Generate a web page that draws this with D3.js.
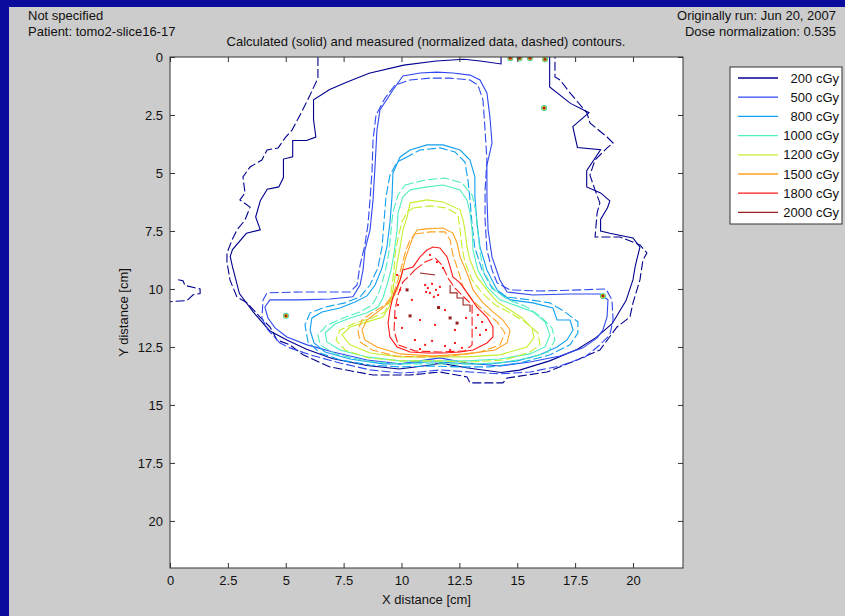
<!DOCTYPE html>
<html><head><meta charset="utf-8">
<script src="https://cdn.jsdelivr.net/npm/d3@7/dist/d3.min.js"></script>
<style>
body{margin:0;background:#0a0a9c;}
text{font-family:"Liberation Sans",Arial,sans-serif;font-size:13px;fill:#111;}
</style>
</head><body><svg id="chart"></svg>
<script>
// dose levels and colours
const levels = [200, 500, 800, 1000, 1200, 1500, 1800, 2000];
const levelColors = ['#00008f', '#2f48f0', '#10a0f0', '#50eec0', '#c4f030', '#ffa020', '#ff1a1a', '#9a2020'];
const levelLabels = ['200 cGy', '500 cGy', '800 cGy', '1000 cGy', '1200 cGy', '1500 cGy', '1800 cGy', '2000 cGy'];

const xTicks = [0, 2.5, 5, 7.5, 10, 12.5, 15, 17.5, 20];
const xTickLabels = ['0', '2.5', '5', '7.5', '10', '12.5', '15', '17.5', '20'];
const yTicks = [0, 2.5, 5, 7.5, 10, 12.5, 15, 17.5, 20];
const yTickLabels = ['0', '2.5', '5', '7.5', '10', '12.5', '15', '17.5', '20'];

// contours, [x cm, y cm]; solid = calculated, dashed = measured
const solid200 = [[16.4,0],[16.4,1.29],[17.3,2.0],[18.1,2.4],[17.4,3.0],[17.6,3.9],[18.6,4.0],[18.0,4.9],[18.0,5.6],[18.6,5.86],[19.0,6.2],[18.9,6.5],[18.6,7.0],[18.6,7.5],[19.0,7.6],[20.0,7.8],[20.3,8.2],[20.2,8.6],[20.1,9.0],[20.0,9.6],[19.7,10.5],[19.1,11.5],[18.4,12.1],[17.6,12.6],[16.4,13.1],[15.1,13.5],[14.3,13.6],[12.8,13.4],[11.7,13.2],[11.1,13.3],[9.9,13.45],[8.5,13.3],[7.0,13.0],[5.9,12.6],[5.05,12.2],[4.3,11.8],[3.6,11.0],[3.0,10.2],[2.7,9.05],[2.6,8.6],[2.7,8.3],[3.3,7.6],[3.9,7.45],[3.7,6.9],[3.9,6.2],[4.2,5.7],[4.7,5.6],[4.9,5.2],[4.9,4.4],[5.3,4.3],[5.3,3.6],[5.9,3.6],[6.3,3.45],[6.2,2.7],[6.2,1.85],[6.9,1.4],[7.6,1.1],[8.6,0.7],[10.1,0.35],[11.5,0.17],[12.7,0.1],[13.4,0.17],[14.3,0.3],[14.3,0]];
const dashed200 = [[6.39,0],[6.39,0.91],[6.05,1.64],[5.62,2.5],[5.27,3.15],[4.97,3.49],[4.67,3.92],[4.19,4.01],[3.97,4.44],[3.46,4.74],[3.15,5.17],[3.24,5.86],[3.02,6.16],[3.46,6.47],[3.24,7.03],[2.89,7.46],[2.68,7.89],[2.46,8.45],[2.46,8.84],[2.59,9.61],[2.89,10.34],[3.33,10.6],[3.89,11.21],[4.32,11.64],[4.62,12.2],[5.18,12.41],[5.75,12.84],[6.91,13.36],[8.77,13.71],[10.37,13.71],[11.66,13.58],[12.83,13.79],[12.96,14.05],[14.38,14.05],[14.56,13.84],[16.29,13.58],[17.58,13.06],[18.57,12.63],[19.31,11.64],[19.87,11.21],[20.0,10.6],[20.3,9.61],[20.43,8.75],[20.6,8.45],[20.3,8.1],[19.44,7.76],[18.36,7.76],[18.45,6.72],[18.57,6.29],[18.36,5.73],[18.14,5.09],[18.36,4.44],[18.88,3.92],[19.14,3.71],[18.88,3.45],[18.14,2.84],[18.01,2.41],[17.28,1.55],[16.85,0.99],[16.63,0.86],[16.63,0]];
const dashed200Edge = [[0.35,9.6],[0.56,9.65],[0.65,9.85],[1.3,10.0],[1.3,10.2],[1.0,10.25],[0.73,10.5],[0,10.55]];

const solid500 = [[5.05,12.07],[4.54,11.68],[4.23,11.25],[4.1,10.78],[4.32,10.47],[5.62,10.47],[6.91,10.43],[7.9,10.34],[8.21,9.83],[8.34,9.18],[8.42,8.32],[8.64,7.46],[8.77,6.16],[8.86,4.66],[8.94,3.15],[9.07,2.28],[9.63,1.42],[10.06,0.82],[10.8,0.69],[11.53,0.65],[12.22,0.69],[12.96,0.78],[13.39,0.99],[13.69,1.55],[13.82,2.59],[13.91,3.71],[13.69,4.66],[13.69,6.03],[13.74,7.46],[13.91,8.62],[14.25,9.61],[14.56,10.13],[15.68,10.26],[17.28,10.22],[18.57,10.22],[18.92,10.47],[18.88,11.21],[18.7,11.77],[18.45,12.11],[17.84,12.54],[16.85,12.89],[15.55,13.15],[14.25,13.32],[12.83,13.19],[11.66,12.97],[10.8,13.1],[9.94,13.23],[8.51,13.06],[7.04,12.72],[5.92,12.41],[5.05,12.07]];
const dashed500 = [[4.75,12.33],[4.23,11.77],[3.97,11.25],[4.02,10.47],[4.19,10.17],[5.62,10.13],[6.91,10.13],[7.78,10.13],[8.08,9.83],[8.21,8.97],[8.42,8.1],[8.55,7.24],[8.64,6.16],[8.73,4.87],[8.77,3.58],[8.9,2.5],[9.29,1.77],[9.72,1.21],[10.37,0.99],[11.23,0.91],[12.1,0.91],[12.96,0.99],[13.3,1.21],[13.52,1.85],[13.61,3.15],[13.69,4.44],[13.61,5.73],[13.61,7.03],[13.69,8.32],[13.91,9.18],[14.13,9.74],[14.69,10.04],[15.98,10.09],[17.71,10.04],[18.83,10.0],[19.09,10.47],[19.14,11.34],[19.0,11.98],[18.57,12.41],[17.93,12.93],[16.85,13.32],[15.55,13.58],[14.25,13.66],[12.96,13.58],[11.66,13.49],[10.8,13.58],[9.94,13.62],[8.64,13.49],[7.34,13.19],[6.05,12.84],[5.18,12.54],[4.75,12.33]];

const solid800 = [[10.37,4.01],[11.1,3.79],[11.79,3.79],[12.53,4.01],[12.96,4.44],[13.17,5.17],[13.17,6.03],[13.26,7.16],[13.39,8.19],[13.69,9.18],[14.13,10.04],[14.69,10.47],[15.68,10.6],[16.54,10.82],[16.72,11.34],[17.28,11.34],[17.41,11.77],[17.15,12.2],[16.72,12.5],[15.98,12.84],[14.99,13.1],[13.82,13.23],[12.83,13.23],[11.66,13.15],[11.1,13.15],[9.94,13.23],[9.2,13.23],[7.78,13.02],[6.7,12.72],[6.22,12.33],[6.05,11.77],[6.13,11.25],[6.57,10.99],[7.34,10.82],[7.99,10.56],[8.51,10.3],[8.86,9.83],[9.16,9.09],[9.37,8.19],[9.5,7.16],[9.59,6.03],[9.63,5.0],[9.94,4.31],[10.37,4.01]];
const dashed800 = [[10.15,4.35],[10.8,4.01],[11.66,3.92],[12.31,4.09],[12.74,4.53],[12.87,5.3],[12.96,6.16],[13.05,7.24],[13.17,8.23],[13.48,9.18],[13.91,9.96],[14.47,10.34],[15.55,10.47],[16.41,10.6],[17.06,10.99],[17.62,11.42],[17.62,11.9],[17.28,12.41],[16.41,12.84],[15.12,13.19],[13.82,13.36],[12.53,13.36],[11.23,13.32],[9.94,13.36],[8.64,13.28],[7.34,13.06],[6.48,12.76],[5.96,12.28],[5.83,11.55],[6.05,11.03],[6.7,10.78],[7.56,10.6],[8.21,10.34],[8.64,9.83],[8.98,9.09],[9.16,8.19],[9.24,7.16],[9.33,6.03],[9.5,5.09],[9.81,4.53],[10.15,4.35]];

const solid1000 = [[10.37,5.73],[11.1,5.6],[11.79,5.52],[12.53,5.73],[12.83,6.16],[12.96,6.72],[13.05,7.46],[13.09,8.32],[13.3,9.18],[13.69,9.91],[14.25,10.47],[14.99,10.73],[15.68,10.99],[16.2,11.42],[16.41,11.98],[16.2,12.5],[15.55,12.8],[14.25,13.02],[12.83,13.1],[11.36,13.1],[9.94,13.1],[8.51,12.93],[7.34,12.63],[6.78,12.28],[6.7,11.9],[7.13,11.51],[7.78,11.25],[8.51,11.03],[8.98,10.78],[9.2,10.39],[9.37,9.83],[9.55,9.18],[9.68,8.45],[9.81,7.46],[9.85,6.72],[10.06,6.03],[10.37,5.73]];
const dashed1000 = [[10.15,5.52],[11.02,5.3],[11.88,5.22],[12.61,5.43],[13.05,5.95],[13.22,6.68],[13.3,7.54],[13.39,8.41],[13.56,9.27],[14.0,10.04],[14.6,10.47],[15.33,10.73],[15.98,11.16],[16.5,11.68],[16.63,12.2],[16.33,12.72],[15.55,12.97],[14.25,13.19],[12.83,13.23],[11.36,13.23],[9.94,13.23],[8.42,13.1],[7.13,12.8],[6.48,12.41],[6.39,11.98],[6.74,11.59],[7.47,11.25],[8.21,10.99],[8.73,10.69],[8.98,10.26],[9.16,9.74],[9.33,9.09],[9.46,8.41],[9.55,7.46],[9.63,6.68],[9.85,5.95],[10.15,5.52]];

const solid1200 = [[10.37,6.29],[11.1,6.16],[11.79,6.25],[12.53,6.59],[12.66,7.03],[12.74,7.46],[12.83,8.19],[12.96,8.75],[13.26,9.48],[13.69,10.04],[14.13,10.56],[14.69,10.91],[15.21,11.25],[15.64,11.68],[15.72,12.11],[15.42,12.5],[14.25,12.84],[12.83,12.93],[11.36,12.93],[9.94,12.93],[8.64,12.76],[7.78,12.41],[7.43,11.98],[7.78,11.64],[8.51,11.42],[9.2,11.21],[9.5,10.69],[9.63,10.04],[9.72,9.48],[9.81,8.88],[9.94,8.19],[10.06,7.46],[10.24,6.9],[10.37,6.29]];
const dashed1200 = [[10.5,6.51],[11.23,6.42],[11.97,6.51],[12.44,6.81],[12.53,7.46],[12.61,8.19],[12.74,8.84],[13.05,9.61],[13.48,10.17],[14.04,10.69],[14.69,11.03],[15.33,11.42],[15.9,11.9],[15.98,12.41],[15.55,12.72],[14.47,13.06],[12.96,13.15],[11.45,13.1],[9.94,13.1],[8.55,12.97],[7.56,12.63],[7.17,12.2],[7.34,11.77],[7.99,11.47],[8.73,11.25],[9.29,10.99],[9.5,10.47],[9.59,9.83],[9.68,9.18],[9.72,8.53],[9.85,7.8],[10.02,7.11],[10.24,6.68],[10.5,6.51]];

const solid1500 = [[10.67,7.46],[11.1,7.41],[11.79,7.37],[12.22,7.59],[12.4,8.02],[12.53,8.62],[12.83,9.31],[13.09,10.04],[13.48,10.56],[13.95,10.99],[14.38,11.34],[14.69,11.77],[14.56,12.33],[14.04,12.63],[12.83,12.8],[11.36,12.89],[9.94,12.8],[8.94,12.5],[8.42,12.2],[8.29,11.77],[8.51,11.34],[9.07,10.91],[9.59,10.47],[9.81,10.04],[9.98,9.48],[10.15,8.75],[10.37,8.1],[10.5,7.76],[10.67,7.46]];
const dashed1500 = [[10.58,7.63],[11.23,7.54],[11.88,7.54],[12.1,7.89],[12.22,8.53],[12.44,9.18],[12.66,9.91],[13.05,10.47],[13.61,10.99],[14.13,11.42],[14.47,11.9],[14.25,12.41],[13.39,12.72],[12.1,12.89],[10.8,12.93],[9.72,12.89],[8.73,12.63],[8.21,12.28],[8.12,11.77],[8.29,11.34],[8.73,11.03],[9.29,10.69],[9.63,10.26],[9.85,9.61],[10.02,8.97],[10.19,8.32],[10.37,7.89],[10.58,7.63]];

const solid1800 = [[11.1,8.32],[11.36,8.19],[11.66,8.23],[11.97,8.62],[12.1,9.05],[12.22,9.48],[12.53,9.74],[12.96,10.34],[13.26,10.78],[13.69,11.21],[13.95,11.64],[13.95,12.07],[13.69,12.33],[13.09,12.63],[12.53,12.72],[11.79,12.76],[11.1,12.76],[10.37,12.72],[9.81,12.5],[9.5,12.07],[9.42,11.47],[9.5,10.91],[9.63,10.34],[9.94,9.61],[10.06,9.18],[10.5,9.05],[10.8,8.62],[11.1,8.32]];
const dashed1800 = [[10.58,9.18],[11.02,8.84],[11.45,8.66],[11.75,8.97],[12.01,9.53],[12.31,9.96],[12.74,10.39],[13.05,10.69],[13.05,11.55],[13.05,12.41],[12.74,12.67],[11.66,12.72],[10.58,12.67],[9.85,12.41],[9.68,11.77],[9.72,10.91],[9.85,10.26],[10.06,9.7],[10.37,9.4],[10.58,9.18]];
const spots1800 = [[11.02,9.83],[11.14,9.96],[11.32,9.78],[11.49,10.04],[11.23,10.17],[11.58,10.26],[11.06,10.13],[11.4,10.34],[11.66,9.91],[9.81,9.4],[9.94,10.04],[9.85,10.69],[9.76,11.25],[10.02,11.68],[10.58,12.2],[11.02,12.41],[11.32,12.24],[11.88,12.46],[12.31,12.33],[12.61,12.54],[10.8,12.59],[12.1,12.63],[13.3,11.12],[13.48,11.42],[13.65,11.77],[13.39,11.98],[13.22,11.68],[11.88,10.91],[10.8,11.34],[12.31,11.77],[11.45,11.55],[10.45,10.47],[12.79,11.25],[11.23,8.53],[11.53,8.84],[11.79,9.09]];

const dashed2000 = [[12.1,9.83],[12.1,10.17],[12.4,10.17],[12.4,10.39],[12.66,10.39],[12.66,10.69],[12.96,10.69],[12.96,10.99]];
const dashed2000b = [[10.8,9.31],[11.45,9.4]];
const spots2000 = [[10.24,10.04],[10.37,11.16],[12.1,11.25],[12.4,11.47],[11.6,10.8]];

// small hot spots where all levels close up
const hotSpots = [[5.01,11.16],[16.16,2.2],[18.7,10.3],[14.7,0.05],[15.1,0.05],[15.55,0.05],[16.2,0.1]];

const W = 845, H = 616;
const plot = {left: 170, right: 683, top: 57, bottom: 568};

const svg = d3.select('#chart').attr('width', W).attr('height', H);
svg.append('rect').attr('width', W).attr('height', H).attr('fill', '#0a0a9c');
svg.append('rect').attr('x', 9).attr('y', 7).attr('width', W - 9).attr('height', H - 7).attr('fill', '#cccccc');

const x = d3.scaleLinear().domain([0, 22.16]).range([plot.left, plot.right]);
const y = d3.scaleLinear().domain([0, 22.03]).range([plot.top, plot.bottom]);

svg.append('rect').attr('x', plot.left).attr('y', plot.top)
    .attr('width', plot.right - plot.left).attr('height', plot.bottom - plot.top)
    .attr('fill', '#fff');

svg.append('clipPath').attr('id', 'clip').append('rect')
    .attr('x', plot.left).attr('y', plot.top)
    .attr('width', plot.right - plot.left).attr('height', plot.bottom - plot.top);

const g = svg.append('g').attr('clip-path', 'url(#clip)');
const line = d3.line().x(d => x(d[0])).y(d => y(d[1]));

const contours = [
    {pts: solid200, lvl: 0, dash: null},
    {pts: dashed200, lvl: 0, dash: '9,3'},
    {pts: dashed200Edge, lvl: 0, dash: '9,3'},
    {pts: solid500, lvl: 1, dash: null},
    {pts: dashed500, lvl: 1, dash: '9,3'},
    {pts: solid800, lvl: 2, dash: null},
    {pts: dashed800, lvl: 2, dash: '9,3'},
    {pts: solid1000, lvl: 3, dash: null},
    {pts: dashed1000, lvl: 3, dash: '9,3'},
    {pts: solid1200, lvl: 4, dash: null},
    {pts: dashed1200, lvl: 4, dash: '9,3'},
    {pts: solid1500, lvl: 5, dash: null},
    {pts: dashed1500, lvl: 5, dash: '9,3'},
    {pts: solid1800, lvl: 6, dash: null},
    {pts: dashed1800, lvl: 6, dash: '9,3'},
    {pts: dashed2000, lvl: 7, dash: null},
    {pts: dashed2000b, lvl: 7, dash: null}
];

g.selectAll('path.contour').data(contours).enter().append('path')
    .attr('class', 'contour')
    .attr('d', d => line(d.pts))
    .attr('fill', 'none')
    .attr('stroke', d => levelColors[d.lvl])
    .attr('stroke-width', 1.1)
    .attr('stroke-dasharray', d => d.dash);

g.selectAll('rect.s1800').data(spots1800).enter().append('rect')
    .attr('x', d => x(d[0]) - 1).attr('y', d => y(d[1]) - 1)
    .attr('width', 2).attr('height', 2).attr('fill', levelColors[6]);
g.selectAll('rect.s2000').data(spots2000).enter().append('rect')
    .attr('x', d => x(d[0]) - 1.5).attr('y', d => y(d[1]) - 1.5)
    .attr('width', 3).attr('height', 3).attr('fill', levelColors[7]);

hotSpots.forEach(p => {
    [3, 2.2, 1.4].forEach((r, i) => {
        g.append('circle').attr('cx', x(p[0])).attr('cy', y(p[1])).attr('r', r)
            .attr('fill', ['#40d0a0', '#e0c020', '#a02020'][i]);
    });
});

// axes, ticks inside on all four sides
const xAxis = d3.axisBottom(x).tickValues(xTicks).tickFormat((d, i) => xTickLabels[i])
    .tickSizeInner(-5).tickSizeOuter(0).tickPadding(8);
const yAxis = d3.axisLeft(y).tickValues(yTicks).tickFormat((d, i) => yTickLabels[i])
    .tickSizeInner(-5).tickSizeOuter(0).tickPadding(7);
svg.append('g').attr('transform', `translate(0,${plot.bottom})`).call(xAxis);
svg.append('g').attr('transform', `translate(${plot.left},0)`).call(yAxis);
svg.append('g').attr('transform', `translate(0,${plot.top})`)
    .call(d3.axisTop(x).tickValues(xTicks).tickFormat('').tickSizeInner(-5).tickSizeOuter(0));
svg.append('g').attr('transform', `translate(${plot.right},0)`)
    .call(d3.axisRight(y).tickValues(yTicks).tickFormat('').tickSizeInner(-5).tickSizeOuter(0));
svg.selectAll('.domain').remove();
svg.selectAll('.tick line').attr('stroke', '#333');
svg.selectAll('.tick text').attr('font-size', 13).attr('fill', '#111')
    .attr('font-family', '"Liberation Sans",Arial,sans-serif');

svg.append('rect').attr('x', plot.left).attr('y', plot.top)
    .attr('width', plot.right - plot.left).attr('height', plot.bottom - plot.top)
    .attr('fill', 'none').attr('stroke', '#333').attr('stroke-width', 1);

// titles
svg.append('text').attr('x', 426).attr('y', 46).attr('text-anchor', 'middle')
    .text('Calculated (solid) and measured (normalized data, dashed) contours.');
svg.append('text').attr('x', 28).attr('y', 20).text('Not specified');
svg.append('text').attr('x', 28).attr('y', 36).text('Patient: tomo2-slice16-17');
svg.append('text').attr('x', 836).attr('y', 20).attr('text-anchor', 'end').text('Originally run: Jun 20, 2007');
svg.append('text').attr('x', 836).attr('y', 36).attr('text-anchor', 'end').text('Dose normalization: 0.535');
svg.append('text').attr('x', (plot.left + plot.right) / 2).attr('y', 604).attr('text-anchor', 'middle')
    .text('X distance [cm]');
svg.append('text').attr('transform', `translate(128,${(plot.top + plot.bottom) / 2}) rotate(-90)`)
    .attr('text-anchor', 'middle').text('Y distance [cm]');

// legend
const lg = svg.append('g').attr('transform', 'translate(730,67)');
lg.append('rect').attr('width', 112).attr('height', 157).attr('fill', '#fff')
    .attr('stroke', '#333').attr('stroke-width', 1);
levels.forEach((lv, i) => {
    const yy = 11 + i * 19.2;
    lg.append('line').attr('x1', 8).attr('x2', 48).attr('y1', yy).attr('y2', yy)
        .attr('stroke', levelColors[i]).attr('stroke-width', 1.3);
    lg.append('text').attr('x', 109).attr('y', yy + 4.5).attr('text-anchor', 'end').text(levelLabels[i]);
});
</script></body></html>
